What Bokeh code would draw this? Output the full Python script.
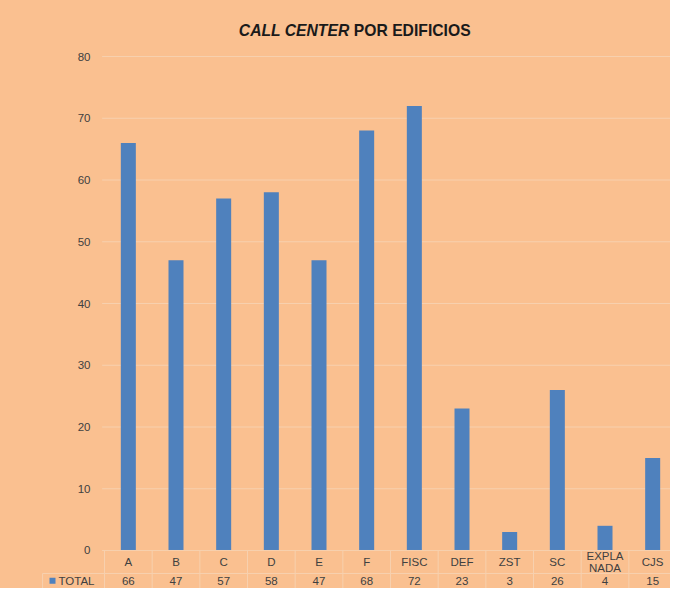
from bokeh.plotting import figure
from bokeh.models import Range1d, FixedTicker, LinearAxis, Label
from bokeh.core.properties import value
from bokeh.embed import file_html
from bokeh.resources import INLINE

# ---- data ----
categories = ["A", "B", "C", "D", "E", "F", "FISC", "DEF", "ZST", "SC", "EXPLA\nNADA", "CJS"]
totals = [66, 47, 57, 58, 47, 68, 72, 23, 3, 26, 4, 15]
series_name = "TOTAL"
y_ticks = [0, 10, 20, 30, 40, 50, 60, 70, 80]
title_italic = "CALL CENTER"
title_rest = "POR EDIFICIOS"

# ---- style ----
BG = "#FAC090"
BAR = "#4F81BD"
TXT = "#404040"
GRID = "#F7D0AE"
FONT = value("Liberation Sans")

n = len(categories)
xs = [i + 0.5 for i in range(n)]

# layout in data units (category band = 1 unit)
label_col = -1.30          # left edge of the table's label column
row1_bottom = -3.725       # bottom of the category row
row1_mid = -1.86
row2_mid = -4.90
y_lo = -6.154

p = figure(width=670, height=588, output_backend="svg", toolbar_location=None,
           x_range=Range1d(-1.3427, 11.874), y_range=Range1d(y_lo, 89.07),
           x_axis_location=None, y_axis_location=None,
           min_border_left=40, min_border_right=0, min_border_top=0, min_border_bottom=0)
p.background_fill_color = BG
p.border_fill_color = BG
p.outline_line_color = None
p.styles = {"background-color": BG}
p.xgrid.visible = False
p.ygrid.visible = False

# gridlines (only across the plotting bands)
p.segment(x0=[-0.05] * len(y_ticks), x1=[n] * len(y_ticks), y0=y_ticks, y1=y_ticks,
          line_color=GRID, line_width=1)

# y axis drawn at x=0
yaxis = LinearAxis(ticker=FixedTicker(ticks=y_ticks), fixed_location=0)
yaxis.axis_line_color = None
yaxis.major_tick_line_color = None
yaxis.minor_tick_line_color = None
yaxis.major_label_standoff = 8
yaxis.major_label_text_font = "Liberation Sans"
yaxis.major_label_text_font_size = "11.5px"
yaxis.major_label_text_color = TXT
p.add_layout(yaxis, "left")

# bars
p.vbar(x=xs, top=totals, bottom=0, width=0.315, fill_color=BAR, line_color=None)

# data table lines
vx = list(range(n + 1))
p.segment(x0=vx, x1=vx, y0=[0] * len(vx), y1=[y_lo] * len(vx), line_color=GRID, line_width=1)
p.segment(x0=[label_col, 0, label_col], x1=[label_col, n, n],
          y0=[row1_bottom, 0, row1_bottom], y1=[y_lo, 0, row1_bottom],
          line_color=GRID, line_width=1)

# table texts
p.text(x=xs, y=[row1_mid] * n, text=categories, text_align="center", text_baseline="middle",
       text_font=FONT, text_font_size="11.5px", text_color=TXT, text_line_height=1.0)
p.text(x=xs, y=[row2_mid] * n, text=[str(v) for v in totals], text_align="center",
       text_baseline="middle", text_font=FONT, text_font_size="11.5px", text_color=TXT)

# legend key + series name
p.scatter(x=[-1.091], y=[row2_mid], marker="square", size=6, fill_color=BAR, line_color=None)
p.add_layout(Label(x=-0.965, y=row2_mid, text=series_name, text_baseline="middle",
                   text_font="Liberation Sans", text_font_size="11.5px", text_color=TXT))

# title
p.add_layout(Label(x=5.14, y=84.21, text=title_italic, text_align="right", text_baseline="middle",
                   text_font="Liberation Sans", text_font_size="15.7px", text_font_style="bold italic",
                   text_color="#1a1a1a"))
p.add_layout(Label(x=5.23, y=84.21, text=title_rest, text_align="left", text_baseline="middle",
                   text_font="Liberation Sans", text_font_size="15.7px", text_font_style="bold",
                   text_color="#1a1a1a"))

open("out.html", "w").write(file_html(p, INLINE))
